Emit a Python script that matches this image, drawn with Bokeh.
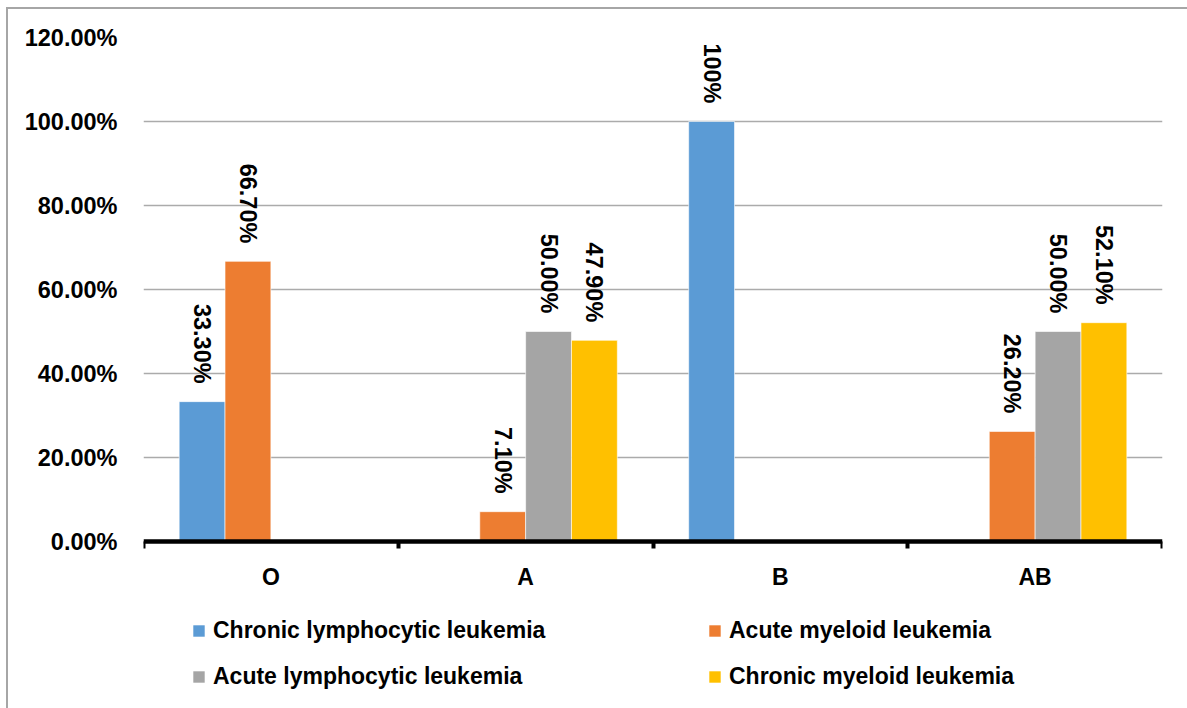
import math
from bokeh.plotting import figure
from bokeh.models import (Range1d, FixedTicker, PrintfTickFormatter, Legend,
                          LegendItem, ColumnDataSource, LinearAxis)
from bokeh.core.properties import value
from bokeh.transform import dodge
from bokeh.embed import file_html
from bokeh.resources import INLINE

# Blood groups and the share of each leukemia type (percent)
blood_groups = ["O", "A", "B", "AB"]
chronic_lymphocytic = [33.3, 0.0, 100.0, 0.0]
acute_myeloid = [66.7, 7.1, 0.0, 26.2]
acute_lymphocytic = [0.0, 50.0, 0.0, 50.0]
chronic_myeloid = [0.0, 47.9, 0.0, 52.1]
y_ticks = [0, 20, 40, 60, 80, 100, 120]

series = [
    ("Chronic lymphocytic leukemia", chronic_lymphocytic, "#5B9BD5"),
    ("Acute myeloid leukemia", acute_myeloid, "#ED7D31"),
    ("Acute lymphocytic leukemia", acute_lymphocytic, "#A5A5A5"),
    ("Chronic myeloid leukemia", chronic_myeloid, "#FFC000"),
]

FONT_NAME = "Liberation Sans"
BAR_W = 0.18
W, H = 1187, 708
TOP, LEFT, RIGHT = 37, 143, 25
PX_PER_UNIT = 4.2                      # 120 % spans 504 px
Y_MIN = 120 - (H - TOP) / PX_PER_UNIT  # frame runs to the bottom edge; legend lives below 0


def fmt(v):
    return "100%" if v == 100 else f"{v:.2f}%"


p = figure(width=W, height=H, x_range=Range1d(0, 4), y_range=Range1d(Y_MIN, 120),
           output_backend="svg", toolbar_location=None,
           min_border_left=LEFT, min_border_right=RIGHT, min_border_top=TOP,
           min_border_bottom=0, x_axis_location=None,
           styles={"background": (
               "linear-gradient(#A6A6A6,#A6A6A6) 6px 7px / calc(100% - 6px) 2px no-repeat,"
               "linear-gradient(#A6A6A6,#A6A6A6) 6px 7px / 2px calc(100% - 7px) no-repeat,"
               "#FFFFFF")})
p.border_fill_color = None
p.outline_line_color = None
p.background_fill_color = "white"

centers = [i + 0.5 for i in range(len(blood_groups))]
renderers = {}
for j, (name, vals, color) in enumerate(series):
    off = (j - 1.5) * BAR_W
    src = ColumnDataSource(dict(x=centers, top=vals))
    r = p.vbar(x=dodge("x", off, range=p.x_range), bottom=0, top="top", width=BAR_W,
               source=src, fill_color=color, line_color="white", line_width=0.6)
    renderers[name] = r
    lx = [c for c, v in zip(centers, vals) if v > 0]
    ly = [v for v in vals if v > 0]
    lt = [fmt(v) for v in vals if v > 0]
    lsrc = ColumnDataSource(dict(x=lx, y=ly, t=lt))
    p.text(x=dodge("x", off, range=p.x_range), y="y", text="t", source=lsrc,
           angle=-math.pi / 2, text_align="right", text_baseline="middle",
           y_offset=-18, text_font=value(FONT_NAME), text_font_style="bold",
           text_font_size="23.5px", text_color="black")

# y axis
yax = p.yaxis[0]
yax.ticker = FixedTicker(ticks=y_ticks)
yax.formatter = PrintfTickFormatter(format="%.2f%%")
yax.axis_line_color = None
yax.major_tick_line_color = None
yax.minor_tick_line_color = None
yax.major_label_standoff = 20
yax.major_label_text_font = FONT_NAME
yax.major_label_text_font_style = "bold"
yax.major_label_text_font_size = "23.5px"
yax.major_label_text_color = "black"

# x axis pinned at 0 %: labels at group centres, ticks on the group boundaries
xax = LinearAxis(fixed_location=0)
xax.ticker = FixedTicker(ticks=centers, minor_ticks=list(range(len(blood_groups) + 1)))
xax.major_label_overrides = {c: g for c, g in zip(centers, blood_groups)}
xax.axis_line_color = "black"
xax.axis_line_width = 4.5
xax.major_tick_line_color = None
xax.major_tick_out = 0
xax.major_tick_in = 0
xax.minor_tick_line_color = "black"
xax.minor_tick_line_width = 4
xax.minor_tick_out = 7
xax.minor_tick_in = 0
xax.major_label_standoff = 15
xax.major_label_text_font = FONT_NAME
xax.major_label_text_font_style = "bold"
xax.major_label_text_font_size = "23px"
xax.major_label_text_color = "black"
p.add_layout(xax, "below")

p.xgrid.grid_line_color = None
p.ygrid.grid_line_color = "#ABABAB"
p.ygrid.grid_line_width = 1.3
p.ygrid.ticker = FixedTicker(ticks=y_ticks)


def make_legend(names, loc):
    lg = Legend(items=[LegendItem(label=n, renderers=[renderers[n]]) for n in names],
                location=loc, orientation="vertical", padding=0, margin=0,
                spacing=19, glyph_width=15, glyph_height=15, label_standoff=7,
                border_line_color=None, background_fill_color=None,
                label_text_font=FONT_NAME, label_text_font_style="bold",
                label_text_font_size="23px", label_text_color="black")
    p.add_layout(lg, "center")


make_legend(["Chronic lymphocytic leukemia", "Acute lymphocytic leukemia"], (48, 18))
make_legend(["Acute myeloid leukemia", "Chronic myeloid leukemia"], (564, 18))

open("out.html", "w").write(file_html(p, INLINE))
